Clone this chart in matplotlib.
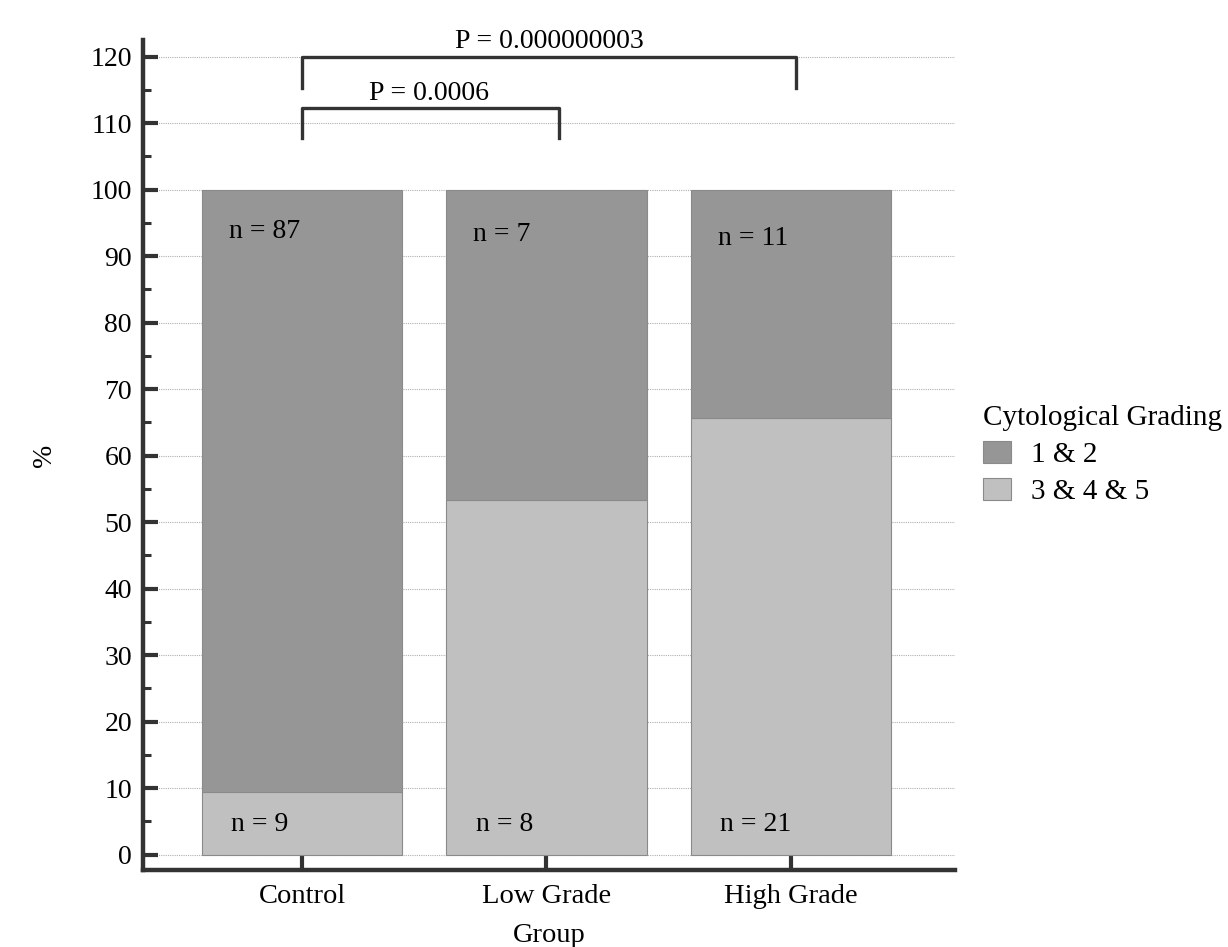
import matplotlib
matplotlib.use('Agg')
from matplotlib import pyplot as plt
from matplotlib.ticker import MultipleLocator
import numpy as np

# Data: counts per group and cytological grade
groups = ['Control', 'Low Grade', 'High Grade']
n_grade_12 = [87, 7, 11]
n_grade_345 = [9, 8, 21]
p_labels = ['P = 0.0006', 'P = 0.000000003']

plt.rcParams['font.family'] = ['Liberation Serif', 'DejaVu Serif']
plt.rcParams['font.size'] = 20


def main():
    low = np.array(n_grade_345, dtype=float)
    high = np.array(n_grade_12, dtype=float)
    tot = low + high
    pct_low = low / tot * 100
    pct_high = high / tot * 100

    fig = plt.figure(figsize=(12.28, 9.47), dpi=100)
    ax = fig.add_axes([0.1165, 0.0813, 0.661, 0.8765])

    x = np.arange(len(groups))
    dark = '#969696'
    light = '#c0c0c0'
    ax.bar(x, pct_low, width=0.82, color=light, edgecolor='#8a8a8a', linewidth=0.8, zorder=2,
           label='3 & 4 & 5')
    ax.bar(x, pct_high, bottom=pct_low, width=0.82, color=dark, edgecolor='#8a8a8a', linewidth=0.8,
           zorder=2, label='1 & 2')

    # n labels inside the bars
    top_off = [6.3, 6.8, 7.4]
    for i in range(len(groups)):
        ax.text(x[i] - 0.3, pct_low[i] + pct_high[i] - top_off[i], 'n = {}'.format(n_grade_12[i]),
                ha='left', va='center', zorder=3)
        ax.text(x[i] - 0.29, 4.5, 'n = {}'.format(n_grade_345[i]), ha='left', va='center', zorder=3)

    # significance brackets
    lw = 2.4
    ax.plot([0, 0, 1.05, 1.05], [107.8, 112.3, 112.3, 107.8], color='#333333', lw=lw, clip_on=False)
    ax.text(0.52, 114.4, p_labels[0], ha='center', va='center')
    ax.plot([0, 0, 2.02, 2.02], [115.3, 120.0, 120.0, 115.3], color='#333333', lw=lw, clip_on=False)
    ax.text(1.01, 122.2, p_labels[1], ha='center', va='center')

    ax.set_xlim(-0.65, 2.67)
    ax.set_ylim(-2.3, 122.5)
    ax.set_xticks(x)
    ax.set_xticklabels(groups, fontsize=20.5)
    ax.yaxis.set_major_locator(MultipleLocator(10))
    ax.yaxis.set_minor_locator(MultipleLocator(5))

    ax.grid(axis='y', which='major', linestyle=(0, (1, 1)), color='#b0b0b0', linewidth=0.8, zorder=0)
    ax.set_axisbelow(True)

    for s in ['top', 'right']:
        ax.spines[s].set_visible(False)
    for s in ['left', 'bottom']:
        ax.spines[s].set_linewidth(3.2)
        ax.spines[s].set_color('#333333')

    ax.tick_params(axis='y', which='major', direction='in', length=11, width=3, color='#333333', pad=8)
    ax.tick_params(axis='y', which='minor', direction='in', length=6, width=2.2, color='#333333')
    ax.tick_params(axis='x', which='major', direction='in', length=11, width=3, color='#333333', pad=10)

    ax.set_ylabel('%', labelpad=24)
    ax.set_xlabel('Group', labelpad=10, fontsize=20.5)

    handles, labels = ax.get_legend_handles_labels()
    leg = fig.legend(handles[::-1], labels[::-1], title='Cytological Grading', loc='upper left',
                     bbox_to_anchor=(0.779, 0.6), frameon=False, handlelength=0.95,
                     handleheight=0.75, handletextpad=0.7, labelspacing=0.35, fontsize=21,
                     title_fontsize=21)
    leg._legend_box.align = 'left'

    fig.savefig('out.png', dpi=100)


if __name__ == "__main__":
    main()
